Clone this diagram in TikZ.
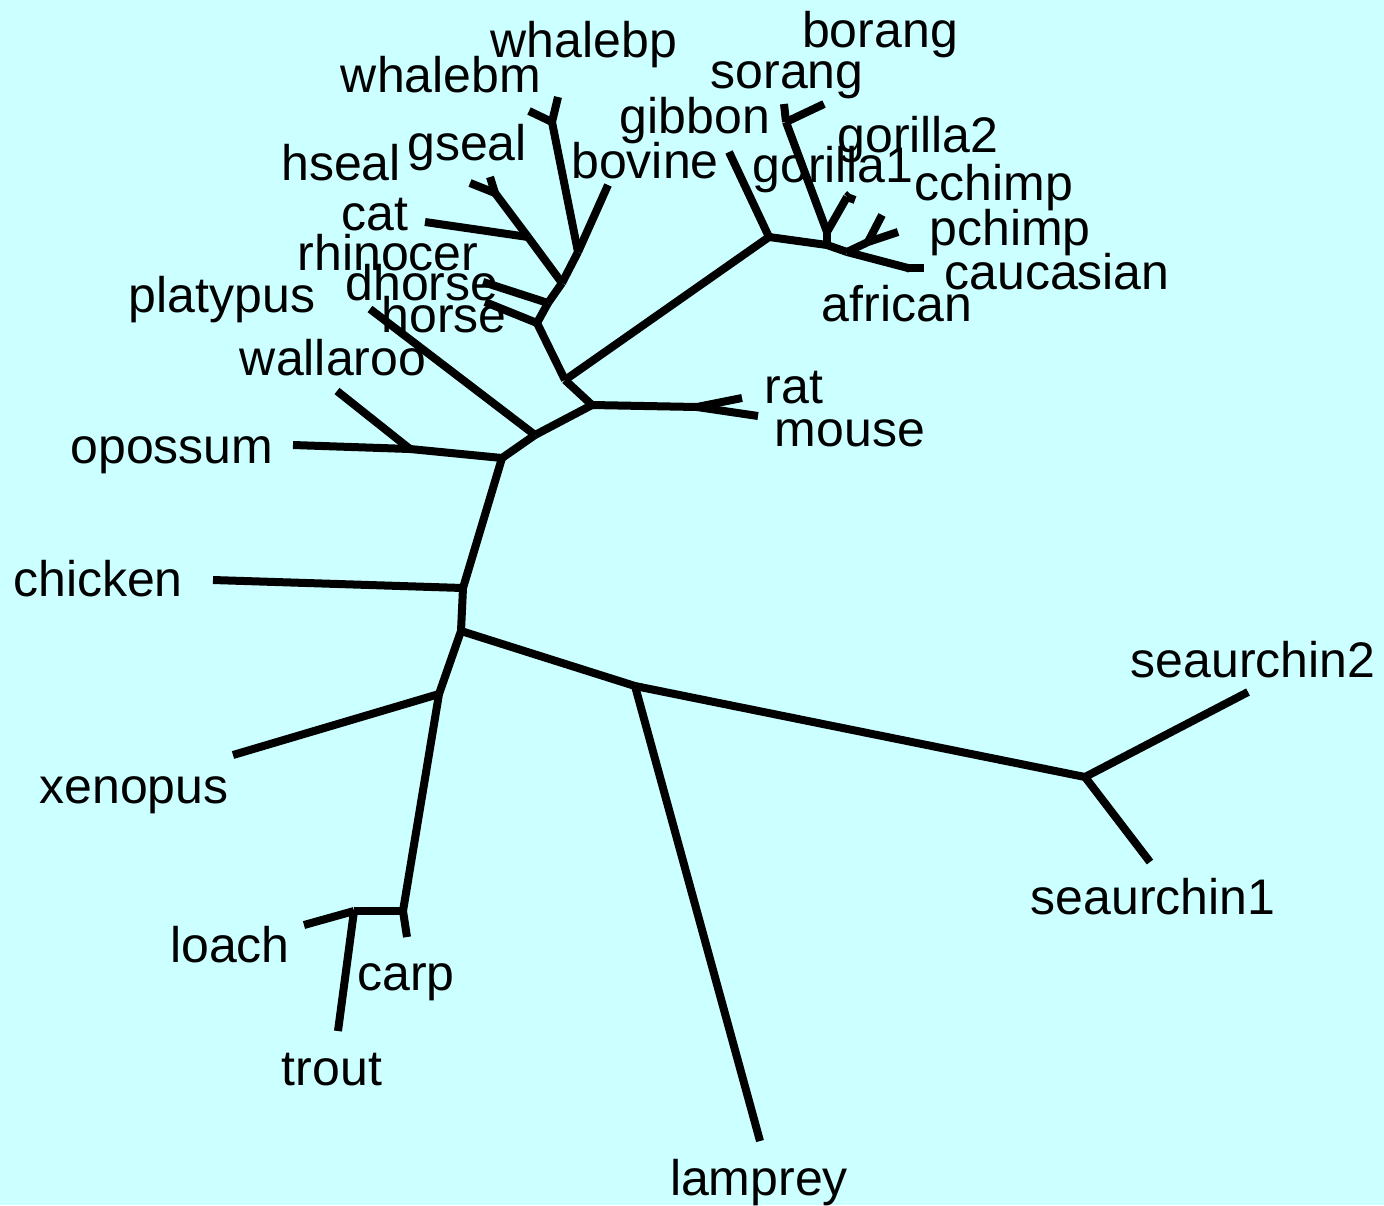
\documentclass[tikz,border=0pt]{standalone}
\usepackage{fontspec}
\setmainfont{Liberation Sans}
\definecolor{bgcyan}{RGB}{204,255,255}
\tikzset{
  branch/.style={line width=4pt},
  taxon/.style={anchor=base, inner sep=0pt, font=\fontsize{25}{30}\selectfont}
}
\begin{document}
\begin{tikzpicture}[x=0.5pt, y=-0.5pt]
    \fill[bgcyan] (0,0) rectangle (1384,1205);
    \useasboundingbox (0,0) rectangle (1384,1205);
    % inner junctions
    \coordinate (nA) at (410,449);  \coordinate (nB) at (502,458);
    \coordinate (nC) at (535,435);  \coordinate (nD) at (592,405);
    \coordinate (nE) at (565,380);  \coordinate (nRM) at (697,407);
    \coordinate (nF) at (463,588);  \coordinate (nG) at (461,631);
    \coordinate (nY) at (439,694);  \coordinate (nZ) at (403,911);
    \coordinate (nLT) at (354,911); \coordinate (nLJ) at (635,686);
    \coordinate (nSU) at (1085,777);
    \coordinate (nH) at (537,323);  \coordinate (nI) at (548,303);
    \coordinate (nJ) at (562,283);  \coordinate (nK) at (528,237);
    \coordinate (nL) at (495,193);  \coordinate (nM) at (578,252);
    \coordinate (nN) at (552,122);
    \coordinate (nP) at (769,237);  \coordinate (nQ) at (827,245);
    \coordinate (nT) at (827,232);  \coordinate (nR) at (786,122);
    \coordinate (nU) at (847,197);  \coordinate (nV) at (847,252);
    \coordinate (nW) at (868,242);  \coordinate (nX) at (908,268);
    % leaf tips
    \coordinate (opossum) at (293,445);   \coordinate (wallaroo) at (337,391);
    \coordinate (platypus) at (370,309);  \coordinate (rat) at (742,398);
    \coordinate (mouse) at (758,416);     \coordinate (chicken) at (213,580);
    \coordinate (xenopus) at (233,755);   \coordinate (carp) at (407,937);
    \coordinate (loach) at (304,925);     \coordinate (trout) at (338,1031);
    \coordinate (lamprey) at (760,1141);  \coordinate (seaurchin1) at (1150,862);
    \coordinate (seaurchin2) at (1248,692);
    \coordinate (horse) at (485,302);     \coordinate (dhorse) at (483,282);
    \coordinate (cat) at (425,222);       \coordinate (hseal) at (470,183);
    \coordinate (gseal) at (490,177);     \coordinate (bovine) at (608,185);
    \coordinate (whalebm) at (529,111);   \coordinate (whalebp) at (558,97);
    \coordinate (gibbon) at (729,152);    \coordinate (sorang) at (784,104);
    \coordinate (borang) at (824,104);    \coordinate (gorilla1) at (855,200);
    \coordinate (gorilla2) at (850,194);  \coordinate (cchimp) at (882,215);
    \coordinate (pchimp) at (898,232);    \coordinate (caucasian) at (924,268);
    \coordinate (african) at (910,269);
    % branches
    \foreach \a/\b in {nB/nA, nA/opossum, nA/wallaroo, nB/nC, nC/platypus,
        nC/nD, nD/nE, nD/nRM, nRM/rat, nRM/mouse, nB/nF, nF/chicken, nF/nG,
        nG/nY, nY/xenopus, nY/nZ, nZ/carp, nZ/nLT, nLT/loach, nLT/trout,
        nG/nLJ, nLJ/lamprey, nLJ/nSU, nSU/seaurchin1, nSU/seaurchin2,
        nE/nH, nH/horse, nH/nI, nI/dhorse, nI/nJ, nJ/nK, nK/cat, nK/nL,
        nL/hseal, nL/gseal, nJ/nM, nM/bovine, nM/nN, nN/whalebm, nN/whalebp,
        nE/nP, nP/gibbon, nP/nQ, nQ/nT, nT/nR, nR/sorang, nR/borang,
        nT/nU, nU/gorilla1, nU/gorilla2, nQ/nV, nV/nW, nW/cchimp,
        nW/pchimp, nV/nX, nX/caucasian, nX/african}
        \draw[branch] (\a) -- (\b);
    % labels
    \node[taxon] (lwhalebp) at (584,57) {whalebp};
    \node[taxon] (lwhalebm) at (441,92) {whalebm};
    \node[taxon] (lborang) at (880,47) {borang};
    \node[taxon] (lsorang) at (787,88) {sorang};
    \node[taxon] (lgibbon) at (695,133) {gibbon};
    \node[taxon] (lgorilla2) at (918,152) {gorilla2};
    \node[taxon] (lhseal) at (341,180) {hseal};
    \node[taxon] (lgseal) at (467,160) {gseal};
    \node[taxon] (lbovine) at (645,178) {bovine};
    \node[taxon] (lgorilla1) at (833,182) {gorilla1};
    \node[taxon] (lcchimp) at (994,200) {cchimp};
    \node[taxon] (lpchimp) at (1010,245) {pchimp};
    \node[taxon] (lcat) at (375,230) {cat};
    \node[taxon] (lrhinocer) at (388,270) {rhinocer};
    \node[taxon] (lcaucasian) at (1057,289) {caucasian};
    \node[taxon] (lplatypus) at (222,312) {platypus};
    \node[taxon] (ldhorse) at (422,300) {dhorse};
    \node[taxon] (lhorse) at (444,332) {horse};
    \node[taxon] (lafrican) at (897,321) {african};
    \node[taxon] (lwallaroo) at (333,375) {wallaroo};
    \node[taxon] (lrat) at (794,403) {rat};
    \node[taxon] (lmouse) at (850,446) {mouse};
    \node[taxon] (lopossum) at (172,463) {opossum};
    \node[taxon] (lchicken) at (98,596) {chicken};
    \node[taxon] (lseaurchin2) at (1253,677) {seaurchin2};
    \node[taxon] (lxenopus) at (134,803) {xenopus};
    \node[taxon] (lseaurchin1) at (1153,914) {seaurchin1};
    \node[taxon] (lloach) at (230,962) {loach};
    \node[taxon] (lcarp) at (406,990) {carp};
    \node[taxon] (ltrout) at (332,1085) {trout};
    \node[taxon] (llamprey) at (759,1195) {lamprey};
\end{tikzpicture}
\end{document}
